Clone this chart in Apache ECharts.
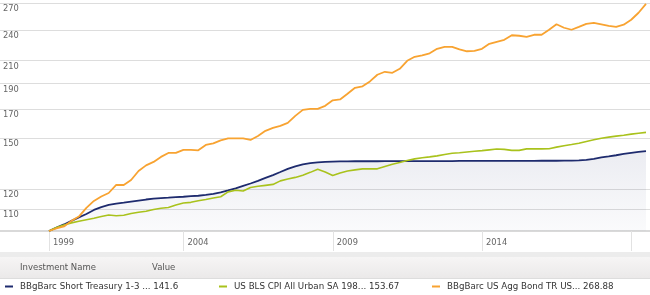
<!DOCTYPE html>
<html><head><meta charset="utf-8">
<script src="https://cdn.jsdelivr.net/npm/echarts@6.0.0/dist/echarts.min.js"></script>
<style>html,body{margin:0;padding:0;background:#fff}#c{width:650px;height:295px}</style>
</head><body><div id="c"></div>
<script>
const dates = [
'1999-06-30','1999-09-30','1999-12-31',
'2000-03-31','2000-06-30','2000-09-30','2000-12-31',
'2001-03-31','2001-06-30','2001-09-30','2001-12-31',
'2002-03-31','2002-06-30','2002-09-30','2002-12-31',
'2003-03-31','2003-06-30','2003-09-30','2003-12-31',
'2004-03-31','2004-06-30','2004-09-30','2004-12-31',
'2005-03-31','2005-06-30','2005-09-30','2005-12-31',
'2006-03-31','2006-06-30','2006-09-30','2006-12-31',
'2007-03-31','2007-06-30','2007-09-30','2007-12-31',
'2008-03-31','2008-06-30','2008-09-30','2008-12-31',
'2009-03-31','2009-06-30','2009-09-30','2009-12-31',
'2010-03-31','2010-06-30','2010-09-30','2010-12-31',
'2011-03-31','2011-06-30','2011-09-30','2011-12-31',
'2012-03-31','2012-06-30','2012-09-30','2012-12-31',
'2013-03-31','2013-06-30','2013-09-30','2013-12-31',
'2014-03-31','2014-06-30','2014-09-30','2014-12-31',
'2015-03-31','2015-06-30','2015-09-30','2015-12-31',
'2016-03-31','2016-06-30','2016-09-30','2016-12-31',
'2017-03-31','2017-06-30','2017-09-30','2017-12-31',
'2018-03-31','2018-06-30','2018-09-30','2018-12-31',
'2019-03-31','2019-06-30'
];
const shortTreasury = [
100,101.5,102.9,104.5,106.1,107.7,109.6,111.0,112.0,112.7,
113.2,113.7,114.2,114.7,115.1,115.4,115.6,115.9,116.1,116.4,
116.6,117.0,117.5,118.3,119.3,120.4,121.7,123.0,124.4,126.0,
127.6,129.3,131.1,132.5,133.7,134.4,134.8,135.1,135.3,135.4,
135.4,135.5,135.5,135.5,135.5,135.6,135.6,135.6,135.6,135.6,
135.6,135.6,135.6,135.6,135.6,135.7,135.7,135.7,135.7,135.7,
135.7,135.7,135.7,135.7,135.7,135.7,135.8,135.8,135.8,135.9,
135.9,136.0,136.3,136.9,137.8,138.4,139.1,139.9,140.5,141.1,
141.6
];
const cpiUrban = [
100,101.5,102.6,103.6,104.3,105.0,105.7,106.5,107.2,106.9,
107.1,107.9,108.5,109.0,109.8,110.4,110.8,112.0,113.0,113.3,
114.1,114.7,115.5,116.1,118.6,119.4,119.0,120.9,121.5,122.0,
122.5,124.4,125.4,126.3,127.5,129.1,130.8,129.3,127.4,128.8,
129.9,130.5,131.1,131.1,131.1,132.4,133.7,134.8,136.0,136.9,
137.6,138.1,138.7,139.6,140.3,140.6,141.1,141.5,141.9,142.4,
142.9,142.7,142.1,142.1,143.0,143.0,143.0,143.1,144.1,145.0,
145.8,146.6,147.7,148.8,149.8,150.5,151.2,151.8,152.5,153.1,
153.67
];
const aggBond = [
100,101.1,102.0,104.5,106.5,110.6,114.0,116.2,118.0,122.2,
122.2,124.9,129.9,133.1,135.1,138.1,140.5,140.5,142.4,142.4,
142.1,145.5,146.5,148.4,149.7,149.7,149.7,148.7,151.3,154.7,
156.7,158.1,160.2,165.1,169.5,170.2,170.2,172.5,176.7,177.4,
181.8,186.6,187.8,191.9,197.5,200.1,199.2,202.7,209.9,213.6,
215.0,216.9,221.2,223.1,223.1,220.7,218.8,219.2,221.2,226.0,
228.0,230.0,234.6,234.1,233.0,235.1,235.1,240.3,246.1,242.4,
240.3,243.4,246.6,247.7,246.1,244.5,243.4,245.6,251.0,258.8,
268.88
];
const seriesNames = ['BBgBarc Short Treasury 1-3 ...','US BLS CPI All Urban SA 198...','BBgBarc US Agg Bond TR US...'];
const seriesColors = ['#1e2b6e','#a9c21c','#f8a331'];
const yTickValues = [110,120,150,170,190,210,240,270];
const xTickDates = ['1999-06-30','2004-01-01','2009-01-01','2014-01-01','2019-01-01'];
const xLabelDates = ['1999-06-30','2004-01-01','2009-01-01','2014-01-01'];
const headerTexts = ['Investment Name','Value'];

const ts = s => { const p = s.split('-').map(Number); return new Date(p[0], p[1]-1, p[2]).getTime(); };
const allValues = [shortTreasury, cpiUrban, aggBond];
const FONT = 'DejaVu Sans';

const chart = echarts.init(document.getElementById('c'), null, {renderer:'canvas'});
const series = allValues.map((vals, i) => {
  const s = {
    name: seriesNames[i], type: 'line', showSymbol: false, symbol: 'none',
    data: dates.map((d, j) => [ts(d), vals[j]]),
    lineStyle: {color: seriesColors[i], width: i === 1 ? 1.6 : 1.8},
    itemStyle: {color: seriesColors[i]},
    z: 2 + i
  };
  if (i === 0) {
    s.areaStyle = {origin: 'start', color: new echarts.graphic.LinearGradient(0,0,0,1,[
      {offset:0, color:'rgba(40,50,110,0.13)'},{offset:1, color:'rgba(40,50,110,0.03)'}])};
  }
  return s;
});

const option = {
  animation: false,
  backgroundColor: '#fff',
  grid: {left: 0, right: 0, top: 3, bottom: 64},
  xAxis: {
    type: 'value',
    min: ts('1997-11-08'), max: ts('2019-08-18'),
    axisLine: {show: true, lineStyle: {color: '#d9d9d9', width: 2}},
    axisTick: {show: true, customValues: xTickDates.map(ts), length: 20, lineStyle: {color: '#e2e2e2', width: 1}},
    axisLabel: {customValues: xLabelDates.map(ts), formatter: v => String(new Date(v).getFullYear()),
      align: 'left', padding: [0,0,0,4], margin: 8, color: '#666', fontSize: 8.3, fontFamily: FONT},
    splitLine: {show: false}
  },
  yAxis: {
    type: 'log', logBase: 10, min: 100, max: 270,
    axisLine: {show: false},
    axisTick: {show: false, customValues: yTickValues},
    axisLabel: {inside: true, customValues: yTickValues, margin: 3, verticalAlign: 'top', padding: [2,0,0,0],
      color: '#666', fontSize: 8.3, fontFamily: FONT, formatter: v => String(Math.round(v))},
    splitLine: {show: true, lineStyle: {color: '#dddddd', width: 1}}
  },
  legend: seriesNames.map((n, i) => ({
    data: [n], left: [5, 219, 432][i], top: 282, icon: 'rect', itemWidth: 8, itemHeight: 2,
    selectedMode: false, padding: 0,
    textStyle: {color: '#333', fontSize: 8.7, fontFamily: FONT, padding: [0,0,0,2]},
    formatter: name => name + ' ' + allValues[i][allValues[i].length - 1]
  })),
  graphic: [
    {type: 'rect', silent: true, shape: {x: 0, y: 252, width: 650, height: 5}, style: {fill: '#ececec'}},
    {type: 'rect', silent: true, shape: {x: 0, y: 257, width: 650, height: 21},
      style: {fill: new echarts.graphic.LinearGradient(0,0,0,1,[{offset:0,color:'#f6f5f5'},{offset:1,color:'#ebe9e9'}])}},
    {type: 'rect', silent: true, shape: {x: 0, y: 278, width: 650, height: 1}, style: {fill: '#dddddd'}},
    {type: 'text', silent: true, x: 20, y: 268, style: {text: headerTexts[0], fill: '#555', font: '8.5px "DejaVu Sans"', verticalAlign: 'middle'}},
    {type: 'text', silent: true, x: 152, y: 268, style: {text: headerTexts[1], fill: '#555', font: '8.5px "DejaVu Sans"', verticalAlign: 'middle'}}
  ],
  series: series
};
chart.setOption(option);
</script></body></html>
